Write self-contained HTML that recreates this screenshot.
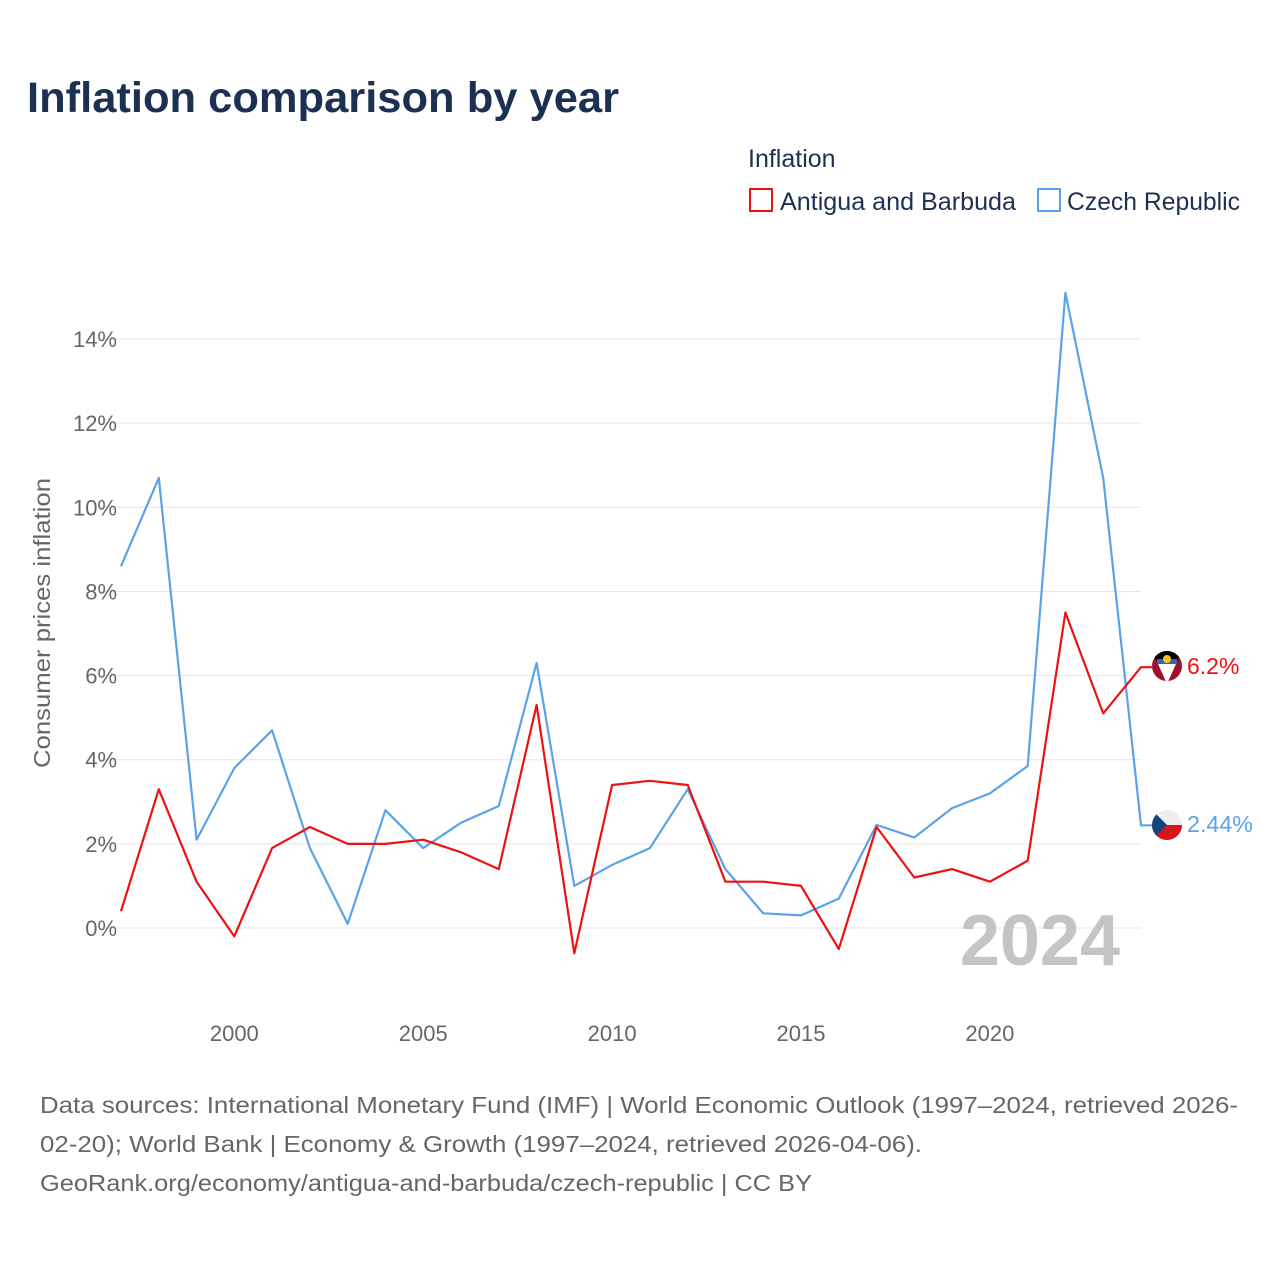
<!DOCTYPE html>
<html><head><meta charset="utf-8"><style>
body{margin:0;background:#fff;font-family:"Liberation Sans",sans-serif;}
svg text{font-family:"Liberation Sans",sans-serif;}
</style></head><body>
<svg id="chart" width="1280" height="1280" viewBox="0 0 1280 1280" xmlns="http://www.w3.org/2000/svg">
<text x="27" y="112" font-size="43" font-weight="bold" fill="#1c3152" textLength="592" lengthAdjust="spacingAndGlyphs">Inflation comparison by year</text>
<text x="748" y="167" font-size="25" fill="#1c3152">Inflation</text>
<g>
<rect x="750" y="189" width="22" height="22" fill="none" stroke="#ee1111" stroke-width="2"/>
<text x="780" y="210" font-size="25" fill="#1c3152" textLength="236" lengthAdjust="spacingAndGlyphs">Antigua and Barbuda</text></g>
<g>
<rect x="1038" y="189" width="22" height="22" fill="none" stroke="#5ba3e8" stroke-width="2"/>
<text x="1067" y="210" font-size="25" fill="#1c3152" textLength="173" lengthAdjust="spacingAndGlyphs">Czech Republic</text></g>
<text transform="translate(50,623) rotate(-90)" text-anchor="middle" font-size="23" fill="#666" textLength="290" lengthAdjust="spacingAndGlyphs">Consumer prices inflation</text>
<g id="grid"></g><g id="yticks"></g><g id="xticks"></g>
<text x="1120" y="965" text-anchor="end" font-size="72" font-weight="bold" fill="#c4c4c4">2024</text>
<g id="series"></g>
<g>
<clipPath id="ca"><circle cx="1167" cy="666" r="15"/></clipPath>
<g clip-path="url(#ca)"><rect x="1150" y="650" width="34" height="34" fill="#a0102a"/>
<polygon points="1152,651 1182,651 1167,684" fill="#000"/>
<polygon points="1158,664 1176,664 1167,684" fill="#fff"/>
<rect x="1157" y="659" width="20" height="5" fill="#2b68b8"/>
<circle cx="1167" cy="659" r="4" fill="#f7c41c"/></g></g>
<g>
<clipPath id="cc"><circle cx="1167" cy="825" r="15"/></clipPath>
<g clip-path="url(#cc)"><rect x="1150" y="808" width="34" height="17" fill="#eee"/>
<rect x="1150" y="825" width="34" height="17" fill="#d7141a"/>
<polygon points="1152,810 1167,825 1152,840" fill="#11457e"/></g></g>
<text x="1187" y="674" font-size="23" fill="#ee1111">6.2%</text>
<text x="1187" y="832" font-size="23" fill="#5ba3e8" textLength="66" lengthAdjust="spacingAndGlyphs">2.44%</text>
<g font-size="23" fill="#666">
<text x="40" y="1113" textLength="1198" lengthAdjust="spacingAndGlyphs">Data sources: International Monetary Fund (IMF) | World Economic Outlook (1997–2024, retrieved 2026-</text>
<text x="40" y="1152" textLength="882" lengthAdjust="spacingAndGlyphs">02-20); World Bank | Economy &amp; Growth (1997–2024, retrieved 2026-04-06).</text>
<text x="40" y="1191" textLength="772" lengthAdjust="spacingAndGlyphs">GeoRank.org/economy/antigua-and-barbuda/czech-republic | CC BY</text></g>
</svg>
<script>
const years=[1997,1998,1999,2000,2001,2002,2003,2004,2005,2006,2007,2008,2009,2010,2011,2012,2013,2014,2015,2016,2017,2018,2019,2020,2021,2022,2023,2024];
const antigua=[0.4,3.3,1.1,-0.2,1.9,2.4,2.0,2.0,2.1,1.8,1.4,5.3,-0.6,3.4,3.5,3.4,1.1,1.1,1.0,-0.5,2.4,1.2,1.4,1.1,1.6,7.5,5.1,6.2];
const czech=[8.6,10.7,2.1,3.8,4.7,1.9,0.1,2.8,1.9,2.5,2.9,6.3,1.0,1.5,1.9,3.3,1.4,0.35,0.3,0.7,2.45,2.15,2.85,3.2,3.85,15.1,10.7,2.44];
const yTicks=[0,2,4,6,8,10,12,14];
const xTicks=[2000,2005,2010,2015,2020];
const NS="http://www.w3.org/2000/svg";
const X=y=>121+(y-1997)*(1141-121)/27;
const Y=v=>928-v*42.07;
function mk(t,a,p){const e=document.createElementNS(NS,t);for(const k in a)e.setAttribute(k,a[k]);document.getElementById(p).appendChild(e);return e;}
yTicks.forEach(v=>{
 const l=mk('line',{x1:100,x2:1141,y1:Y(v),y2:Y(v),stroke:'#e6e6e6','stroke-width':1},'grid');
 
 
 const t=mk('text',{x:117,y:Y(v)+8,'text-anchor':'end','font-size':22,fill:'#666'},'yticks');
 t.textContent=v+'%';
 
 
});
xTicks.forEach(v=>{
 const t=mk('text',{x:X(v),y:1041,'text-anchor':'middle','font-size':22,fill:'#666'},'xticks');
 t.textContent=v;
 
 
});
function line(vals,color,name){
 let d=vals.map((v,i)=>(i?'L':'M')+X(years[i]).toFixed(1)+','+Y(v).toFixed(1)).join(' ');
 d+=' L1152,'+Y(vals[vals.length-1]).toFixed(1);
 const p=mk('path',{d:d,fill:'none',stroke:color,'stroke-width':2.2,'stroke-linejoin':'round'},'series');
 
 
}
line(czech,'#5ba3e8','line-czech-republic');
line(antigua,'#ee1111','line-antigua-and-barbuda');
</script>
</body></html>
